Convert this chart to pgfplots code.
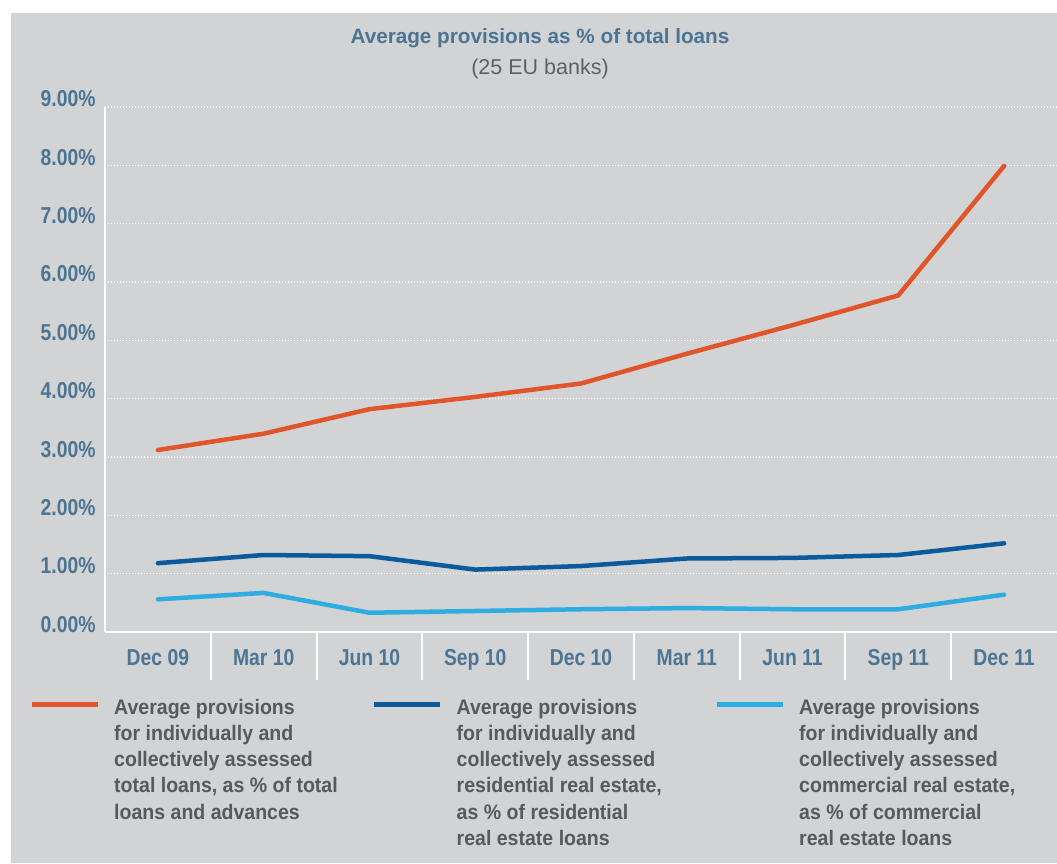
\documentclass[border=0pt]{standalone}
\usepackage{pgfplots}
\pgfplotsset{compat=1.18}
\usepackage{fontspec}
\setmainfont{Liberation Sans}
\newfontfamily\condfont{Liberation Sans}[FakeStretch=0.84]
\newfontfamily\legfont{Liberation Sans}[FakeStretch=0.93]
\definecolor{bg}{HTML}{D2D3D5}
\definecolor{steel}{HTML}{4B7592}
\definecolor{txtgrey}{HTML}{58595B}
\definecolor{subgrey}{HTML}{5F6062}
\definecolor{cA}{HTML}{E0562A}
\definecolor{cB}{HTML}{0B5A9C}
\definecolor{cC}{HTML}{2FADE3}
\begin{document}
\begin{tikzpicture}[x=1pt,y=1pt]
\useasboundingbox (0,0) rectangle (1057,863);
\fill[white] (0,0) rectangle (1057,863);
\fill[bg] (11,0) rectangle (1057,850);
\node[anchor=base, inner sep=0pt, font=\bfseries\fontsize{20.7}{24}\selectfont, text=steel] at (540,819) {Average provisions as \% of total loans};
\node[anchor=base, inner sep=0pt, font=\fontsize{21.5}{24}\selectfont, text=subgrey] at (540,788) {(25 EU banks)};
\begin{axis}[
  at={(105pt,231pt)}, anchor=south west,
  scale only axis, width=952pt, height=525pt,
  xmin=-0.5, xmax=8.5, ymin=0, ymax=9,
  axis x line*=bottom, axis y line*=left,
  axis line style={white, line width=2pt, -},
  ytick={0,1,...,9},
  yticklabels={0.00\%,1.00\%,2.00\%,3.00\%,4.00\%,5.00\%,6.00\%,7.00\%,8.00\%,9.00\%},
  xtick={0,1,...,8},
  xticklabels={Dec 09,Mar 10,Jun 10,Sep 10,Dec 10,Mar 11,Jun 11,Sep 11,Dec 11},
  minor xtick={0.5,1.5,2.5,3.5,4.5,5.5,6.5,7.5},
  major tick length=0pt,
  minor tick length=48pt,
  tick align=outside,
  minor tick style={white, line width=2pt},
  ymajorgrids,
  grid style={white, line width=1.2pt, dash pattern=on 1.2pt off 1.8pt},
  xticklabel style={font=\condfont\bfseries\fontsize{23}{26}\selectfont, text=steel, anchor=base, yshift=-33pt},
  yticklabel style={font=\condfont\bfseries\fontsize{23}{26}\selectfont, text=steel, anchor=base east, xshift=-6pt, yshift=0pt},
  clip=false,
  legend columns=3,
  legend style={draw=none, fill=none, inner sep=0pt, at={(-0.0798,-0.1269)}, anchor=north west,
     font=\legfont\bfseries\fontsize{21}{26.3}\selectfont, text=txtgrey,
     nodes={inner sep=0pt},
     /tikz/every odd column/.append style={column sep=14pt},
     /tikz/every even column/.append style={column sep=17.5pt}},
  legend cell align=left,
  legend image code/.code={\draw[#1, line width=5pt, line cap=butt] (0pt,3pt) -- (66pt,3pt);},
  every axis plot/.append style={line width=4.5pt, line cap=round, line join=round, mark=none},
]
\addplot[cA] coordinates {(0,3.12) (1,3.40) (2,3.82) (3,4.03) (4,4.26) (5,4.77) (6,5.26) (7,5.77) (8,7.99)};
\addlegendentry{\parbox[t]{240pt}{Average provisions\\for individually and\\collectively assessed\\total loans, as \% of total\\loans and advances}}
\addplot[cB] coordinates {(0,1.18) (1,1.32) (2,1.30) (3,1.07) (4,1.13) (5,1.26) (6,1.27) (7,1.32) (8,1.52)};
\addlegendentry{\parbox[t]{240pt}{Average provisions\\for individually and\\collectively assessed\\residential real estate,\\as \% of residential\\real estate loans}}
\addplot[cC] coordinates {(0,0.56) (1,0.67) (2,0.33) (3,0.36) (4,0.39) (5,0.41) (6,0.39) (7,0.39) (8,0.64)};
\addlegendentry{\parbox[t]{240pt}{Average provisions\\for individually and\\collectively assessed\\commercial real estate,\\as \% of commercial\\real estate loans}}
\end{axis}
\end{tikzpicture}
\end{document}
